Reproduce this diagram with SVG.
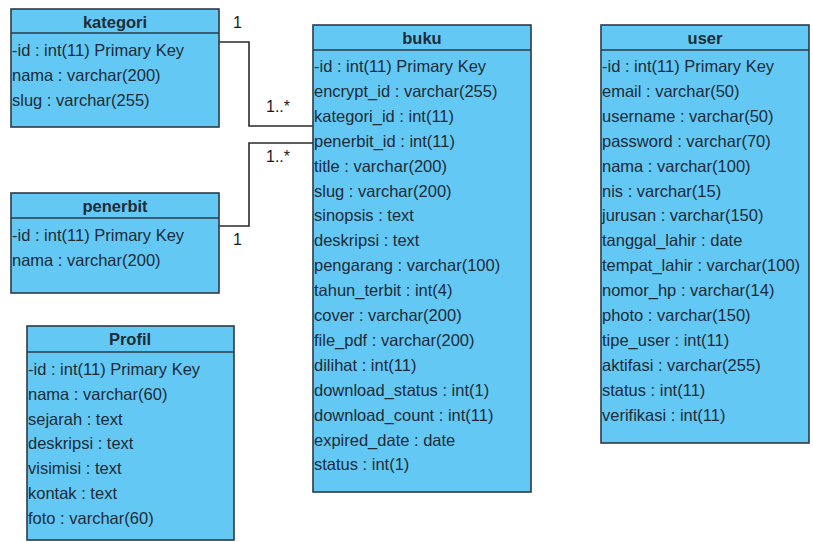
<svg xmlns="http://www.w3.org/2000/svg" width="813" height="542" viewBox="0 0 813 542">
<style>
.box{fill:#63c9f4;stroke:#2c3a48;stroke-width:1.6}
.sep{stroke:#2c3a48;stroke-width:1.6}
.h{font-family:"Liberation Sans",Arial,sans-serif;font-size:16.5px;font-weight:bold;fill:#1e2b38;text-anchor:middle}
.r{font-family:"Liberation Sans",Arial,sans-serif;font-size:16.5px;fill:#1e2b38}
.lbl{font-family:"Liberation Sans",Arial,sans-serif;font-size:16px;fill:#1a1a1a}
.con{fill:none;stroke:#2a2a2a;stroke-width:1.6}
</style>
<rect width="813" height="542" fill="#ffffff"/>
<g id="connectors">
<polyline class="con" points="219,42 249,42 249,126 313,126"/>
<polyline class="con" points="219,226 249,226 249,143 313,143"/>
<text class="lbl" x="233" y="28">1</text>
<text class="lbl" x="266" y="112">1..*</text>
<text class="lbl" x="266" y="162">1..*</text>
<text class="lbl" x="233" y="245">1</text>
</g>
<g id="kategori">
<rect class="box" x="11" y="9" width="208" height="118"/>
<line class="sep" x1="11" y1="33" x2="219" y2="33"/>
<text class="h" x="115" y="28">kategori</text>
<text class="r" x="12" y="56">-id : int(11) Primary Key</text>
<text class="r" x="12" y="80.8">nama : varchar(200)</text>
<text class="r" x="12" y="105.6">slug : varchar(255)</text>
</g>
<g id="penerbit">
<rect class="box" x="11" y="193" width="208" height="100"/>
<line class="sep" x1="11" y1="218" x2="219" y2="218"/>
<text class="h" x="115" y="212">penerbit</text>
<text class="r" x="12" y="241">-id : int(11) Primary Key</text>
<text class="r" x="12" y="266">nama : varchar(200)</text>
</g>
<g id="profil">
<rect class="box" x="27" y="326" width="207" height="214"/>
<line class="sep" x1="27" y1="352" x2="234" y2="352"/>
<text class="h" x="130" y="345">Profil</text>
<text class="r" x="28" y="375">-id : int(11) Primary Key</text>
<text class="r" x="28" y="399.8">nama : varchar(60)</text>
<text class="r" x="28" y="424.6">sejarah : text</text>
<text class="r" x="28" y="449.4">deskripsi : text</text>
<text class="r" x="28" y="474.2">visimisi : text</text>
<text class="r" x="28" y="499">kontak : text</text>
<text class="r" x="28" y="523.8">foto : varchar(60)</text>
</g>
<g id="buku">
<rect class="box" x="313" y="25" width="218" height="467"/>
<line class="sep" x1="313" y1="50" x2="531" y2="50"/>
<text class="h" x="422" y="44">buku</text>
<text class="r" x="314" y="72">-id : int(11) Primary Key</text>
<text class="r" x="314" y="96.9">encrypt_id : varchar(255)</text>
<text class="r" x="314" y="121.8">kategori_id : int(11)</text>
<text class="r" x="314" y="146.7">penerbit_id : int(11)</text>
<text class="r" x="314" y="171.6">title : varchar(200)</text>
<text class="r" x="314" y="196.5">slug : varchar(200)</text>
<text class="r" x="314" y="221.4">sinopsis : text</text>
<text class="r" x="314" y="246.3">deskripsi : text</text>
<text class="r" x="314" y="271.2">pengarang : varchar(100)</text>
<text class="r" x="314" y="296.1">tahun_terbit : int(4)</text>
<text class="r" x="314" y="321">cover : varchar(200)</text>
<text class="r" x="314" y="345.9">file_pdf : varchar(200)</text>
<text class="r" x="314" y="370.8">dilihat : int(11)</text>
<text class="r" x="314" y="395.7">download_status : int(1)</text>
<text class="r" x="314" y="420.6">download_count : int(11)</text>
<text class="r" x="314" y="445.5">expired_date : date</text>
<text class="r" x="314" y="470.4">status : int(1)</text>
</g>
<g id="user">
<rect class="box" x="601" y="25" width="208" height="418"/>
<line class="sep" x1="601" y1="50" x2="809" y2="50"/>
<text class="h" x="705" y="44">user</text>
<text class="r" x="602" y="72">-id : int(11) Primary Key</text>
<text class="r" x="602" y="96.9">email : varchar(50)</text>
<text class="r" x="602" y="121.8">username : varchar(50)</text>
<text class="r" x="602" y="146.7">password : varchar(70)</text>
<text class="r" x="602" y="171.6">nama : varchar(100)</text>
<text class="r" x="602" y="196.5">nis : varchar(15)</text>
<text class="r" x="602" y="221.4">jurusan : varchar(150)</text>
<text class="r" x="602" y="246.3">tanggal_lahir : date</text>
<text class="r" x="602" y="271.2">tempat_lahir : varchar(100)</text>
<text class="r" x="602" y="296.1">nomor_hp : varchar(14)</text>
<text class="r" x="602" y="321">photo : varchar(150)</text>
<text class="r" x="602" y="345.9">tipe_user : int(11)</text>
<text class="r" x="602" y="370.8">aktifasi : varchar(255)</text>
<text class="r" x="602" y="395.7">status : int(11)</text>
<text class="r" x="602" y="420.6">verifikasi : int(11)</text>
</g>
</svg>
